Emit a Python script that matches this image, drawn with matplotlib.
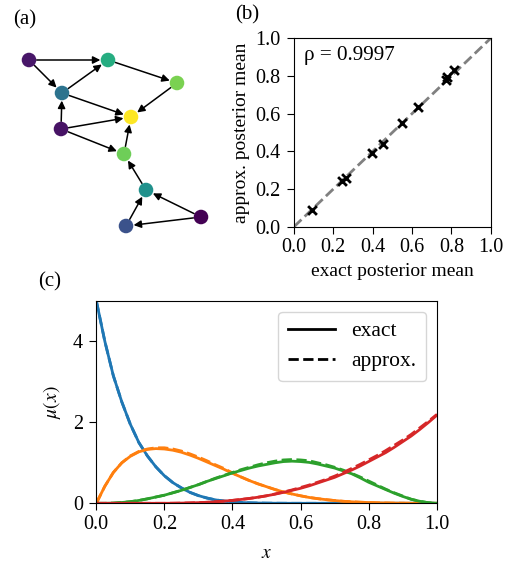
import numpy as np
import matplotlib
matplotlib.use("Agg")
import matplotlib.pyplot as plt

plt.rcParams['font.family'] = ['Liberation Serif', 'DejaVu Serif']
plt.rcParams['mathtext.fontset'] = 'stix'
plt.rcParams['font.size'] = 14
plt.rcParams['xtick.labelsize'] = 14.5
plt.rcParams['ytick.labelsize'] = 14.5
plt.rcParams['xtick.major.size'] = 5.2
plt.rcParams['ytick.major.size'] = 5.2
plt.rcParams['xtick.major.pad'] = 3.0
plt.rcParams['ytick.major.pad'] = 4.5

# ---------------- data ----------------
# (a) network
node_x = [29, 108, 177, 62, 131, 61, 124, 146, 201, 126]
node_y = [60, 60, 83, 93, 117, 129, 154, 190, 217, 226]
node_val = [0.06, 0.62, 0.80, 0.38, 1.0, 0.05, 0.78, 0.50, 0.0, 0.25]
edges = [(0, 1), (0, 3), (3, 1), (1, 2), (2, 4), (3, 4), (5, 3), (5, 4),
         (5, 6), (6, 4), (7, 6), (9, 7), (8, 7), (8, 9)]

# (b) posterior means
exact_mean = [0.09, 0.245, 0.265, 0.395, 0.45, 0.55, 0.63, 0.775, 0.78, 0.815]
approx_mean = [0.09, 0.24, 0.26, 0.39, 0.44, 0.55, 0.635, 0.78, 0.795, 0.83]
rho_text = "ρ = 0.9997"

# (c) curves on grid x = 0, 0.025, ..., 1.0
x_grid = np.linspace(0, 1, 41)
blue_exact = [5.0, 4.0, 3.15, 2.5, 1.95, 1.5, 1.17, 0.9, 0.68, 0.51, 0.38, 0.27, 0.19,
              0.13, 0.085, 0.055, 0.035, 0.02, 0.012, 0.007, 0.004, 0.002, 0.001,
              0, 0, 0, 0, 0, 0, 0, 0, 0, 0, 0, 0, 0, 0, 0, 0, 0, 0]
blue_approx = blue_exact
orange_exact = [0, 0.42, 0.76, 1.0, 1.16, 1.27, 1.33, 1.35, 1.34, 1.31, 1.26, 1.19, 1.11,
                1.02, 0.93, 0.84, 0.74, 0.65, 0.56, 0.48, 0.41, 0.34, 0.28, 0.23, 0.185,
                0.145, 0.115, 0.09, 0.068, 0.05, 0.037, 0.027, 0.019, 0.013, 0.008,
                0.005, 0.003, 0.002, 0.001, 0, 0]
orange_approx = [0, 0.42, 0.76, 1.0, 1.17, 1.28, 1.34, 1.37, 1.37, 1.34, 1.29, 1.22, 1.14,
                 1.05, 0.95, 0.86, 0.75, 0.65, 0.56, 0.48, 0.41, 0.34, 0.28, 0.23, 0.185,
                 0.145, 0.115, 0.09, 0.068, 0.05, 0.037, 0.027, 0.019, 0.013, 0.008,
                 0.005, 0.003, 0.002, 0.001, 0, 0]
green_exact = [0, 0, 0.005, 0.02, 0.04, 0.07, 0.11, 0.155, 0.2, 0.26, 0.32, 0.39, 0.46,
               0.54, 0.61, 0.68, 0.75, 0.81, 0.87, 0.92, 0.96, 1.0, 1.03, 1.04, 1.03,
               1.01, 0.97, 0.92, 0.87, 0.80, 0.73, 0.63, 0.52, 0.43, 0.34, 0.25, 0.17,
               0.1, 0.05, 0.015, 0]
green_approx = [0, 0, 0.005, 0.02, 0.04, 0.07, 0.11, 0.155, 0.2, 0.26, 0.32, 0.39, 0.46,
                0.54, 0.62, 0.69, 0.76, 0.83, 0.89, 0.95, 1.0, 1.04, 1.07, 1.08, 1.07,
                1.05, 1.0, 0.95, 0.89, 0.82, 0.74, 0.65, 0.55, 0.45, 0.35, 0.26, 0.18,
                0.1, 0.05, 0.015, 0]
red_exact = [0, 0, 0, 0, 0, 0, 0, 0, 0, 0.002, 0.005, 0.01, 0.016, 0.025, 0.037, 0.053,
             0.072, 0.095, 0.12, 0.15, 0.185, 0.225, 0.27, 0.32, 0.37, 0.43, 0.5, 0.57,
             0.64, 0.73, 0.82, 0.92, 1.03, 1.14, 1.25, 1.38, 1.52, 1.66, 1.82, 1.99, 2.17]
red_approx = [0, 0, 0, 0, 0, 0, 0, 0, 0, 0.002, 0.005, 0.01, 0.016, 0.025, 0.037, 0.053,
              0.072, 0.095, 0.12, 0.15, 0.185, 0.23, 0.28, 0.33, 0.39, 0.45, 0.52, 0.59,
              0.67, 0.76, 0.86, 0.96, 1.07, 1.18, 1.30, 1.43, 1.56, 1.70, 1.86, 2.02, 2.19]

curves = [(blue_exact, blue_approx, '#1f77b4'),
          (orange_exact, orange_approx, '#ff7f0e'),
          (green_exact, green_approx, '#2ca02c'),
          (red_exact, red_approx, '#d62728')]

# ---------------- figure ----------------
W, H = 506, 563
fig = plt.figure(figsize=(W / 100, H / 100), dpi=100)

# (a)
axa = fig.add_axes([0, 1 - 245 / H, 230 / W, 215 / H])
axa.set_xlim(0, 230)
axa.set_ylim(245, 30)
axa.axis('off')
cmap = matplotlib.colormaps['viridis']
for s, t in edges:
    axa.annotate("", xy=(node_x[t], node_y[t]), xytext=(node_x[s], node_y[s]),
                 arrowprops=dict(arrowstyle='-|>', color='black', lw=1.1,
                                 mutation_scale=11, shrinkA=5.5, shrinkB=5.5))
axa.scatter(node_x, node_y, c=[cmap(v) for v in node_val], s=110, zorder=3,
            edgecolors='none')
fig.text(25 / W, 1 - 20 / H, "(a)", ha='center', va='center', fontsize=15)

# (b)
axb = fig.add_axes([294 / W, 1 - 226.7 / H, 196.7 / W, 188.4 / H])
axb.plot([0, 1], [0, 1], ls='--', color='gray', lw=2, zorder=1)
axb.scatter(exact_mean, approx_mean, marker='x', color='black', s=40, lw=2, zorder=2)
axb.set_xlim(0, 1)
axb.set_ylim(0, 1)
axb.set_xticks(np.arange(0, 1.01, 0.2))
axb.set_yticks(np.arange(0, 1.01, 0.2))
axb.set_xlabel("exact posterior mean", labelpad=4)
axb.set_ylabel("approx. posterior mean", labelpad=4)
axb.text(0.05, 0.96, rho_text, transform=axb.transAxes, ha='left', va='top', fontsize=15.2)
fig.text(247 / W, 1 - 15 / H, "(b)", ha='center', va='center', fontsize=15)

# (c)
axc = fig.add_axes([96.3 / W, 1 - 503.3 / H, 340.4 / W, 202.6 / H])
for ex, ap, col in curves:
    axc.plot(x_grid, ex, color=col, lw=2.0, ls='-')
    axc.plot(x_grid, ap, color=col, lw=2.0, ls='--')
axc.plot([], [], color='black', lw=2, ls='-', label='exact')
axc.plot([], [], color='black', lw=2, ls='--', label='approx.')
axc.legend(loc='upper right', fontsize=15.5, handlelength=2.2, borderpad=0.45,
           labelspacing=0.45, handletextpad=0.75, borderaxespad=0,
           bbox_to_anchor=(0.969, 0.946))
axc.set_xlim(0, 1)
axc.set_ylim(0, 5)
axc.set_xticks(np.arange(0, 1.01, 0.2))
axc.set_yticks([0, 2, 4])
axc.set_xlabel("$x$", labelpad=8)
axc.set_ylabel(r"$\mu(x)$", labelpad=7)
fig.text(50 / W, 1 - 282 / H, "(c)", ha='center', va='center', fontsize=15)

fig.savefig("out.png", dpi=100)
